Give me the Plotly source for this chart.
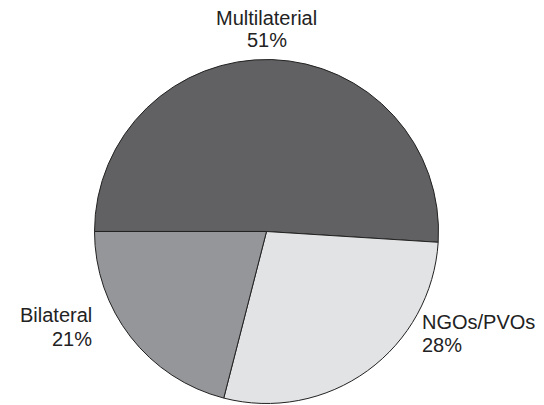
import plotly.graph_objects as go

labels = ["Multilaterial", "NGOs/PVOs", "Bilateral"]
values = [51, 28, 21]
colors = ["#616163", "#e2e3e4", "#959699"]

# label placement (paper coords) and alignment
label_x = [0.4823, 0.7687, 0.1604]
name_y = [1.0083, 0.2418, 0.2594]
pct_y = [0.9514, 0.1839, 0.1990]
label_xanchor = ["center", "left", "right"]

# the page body adds an 8px margin, so the figure is sized to fit inside it
W, H = 536, 397

fig = go.Figure(go.Pie(
    labels=labels, values=values, sort=False, direction="clockwise",
    rotation=270, marker=dict(colors=colors, line=dict(color="#222222", width=1)),
    textinfo="none", hoverinfo="label+percent", showlegend=False,
    domain=dict(x=[0.1614, 0.8032], y=[0.0038, 0.8703]),
))

font = dict(family="Liberation Sans, Arial, sans-serif", size=20, color="#222222")
for lab, v, x, ny, py, xa in zip(labels, values, label_x, name_y, pct_y, label_xanchor):
    for txt, yy in ((lab, ny), (f"{v}%", py)):
        fig.add_annotation(
            text=txt, x=x, y=yy, xref="paper", yref="paper",
            xanchor=xa, yanchor="top", showarrow=False, font=font,
        )

fig.update_layout(
    width=W, height=H, margin=dict(l=0, r=0, t=0, b=0),
    paper_bgcolor="white", plot_bgcolor="white",
)
fig.write_html("out.html")
